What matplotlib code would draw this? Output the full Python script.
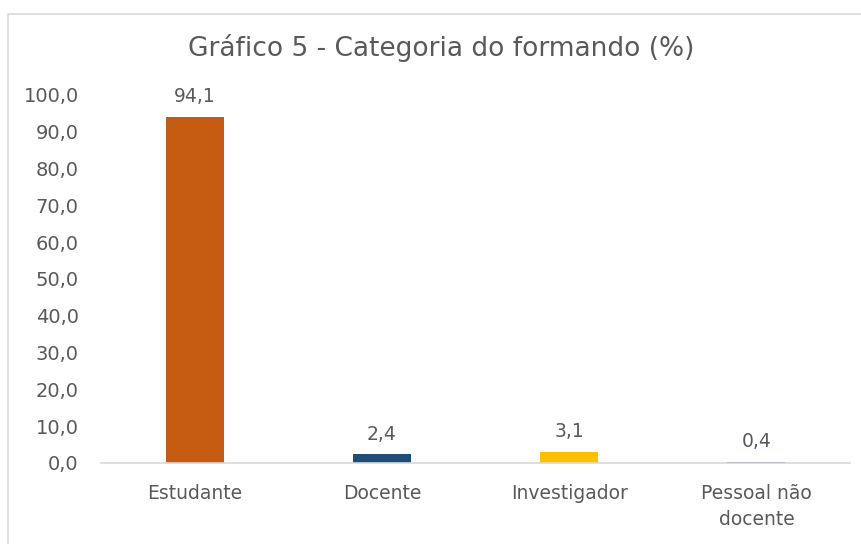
import matplotlib.pyplot as plt
from matplotlib.patches import Rectangle

categories = ["Estudante", "Docente", "Investigador", "Pessoal não\ndocente"]
values = [94.1, 2.4, 3.1, 0.4]
colors = ["#C55A11", "#1F4E79", "#FFC000", "#203864"]
yticks = [0, 10, 20, 30, 40, 50, 60, 70, 80, 90, 100]

text_color = "#595959"
W, H = 861, 544

fig = plt.figure(figsize=(W / 100, H / 100), dpi=100)

# chart frame
fig.patches.append(Rectangle((7.5 / W, -0.1), 1.2, 1 - 13.5 / H + 0.1,
                             transform=fig.transFigure, fill=False,
                             edgecolor="#D9D9D9", linewidth=1.2))

ax = fig.add_axes([101 / W, 1 - 463 / H, 749 / W, 368 / H])
x = range(len(categories))
bars = ax.bar(x, values, width=0.31, color=colors)

ax.set_xlim(-0.5, len(categories) - 0.5)
ax.set_ylim(0, 100)
ax.set_yticks(yticks)
ax.set_yticklabels([f"{v:.1f}".replace(".", ",") for v in yticks])
ax.set_xticks(list(x))
ax.set_xticklabels(categories, linespacing=1.45)

for s in ["top", "right", "left"]:
    ax.spines[s].set_visible(False)
ax.spines["bottom"].set_color("#D9D9D9")
ax.spines["bottom"].set_linewidth(1.2)
ax.tick_params(axis="both", length=0, colors=text_color)
ax.tick_params(axis="x", pad=15, labelsize=13.5)
ax.tick_params(axis="y", pad=16, labelsize=14)

for b, v in zip(bars, values):
    ax.annotate(f"{v:.1f}".replace(".", ","), (b.get_x() + b.get_width() / 2, v),
                xytext=(0, 14.5), textcoords="offset points", ha="center", va="center",
                color=text_color, fontsize=13.5)

fig.text(441 / W, 1 - 48 / H, "Gráfico 5 - Categoria do formando (%)",
         ha="center", va="center", color=text_color, fontsize=19)

fig.savefig("out.png", dpi=100)
